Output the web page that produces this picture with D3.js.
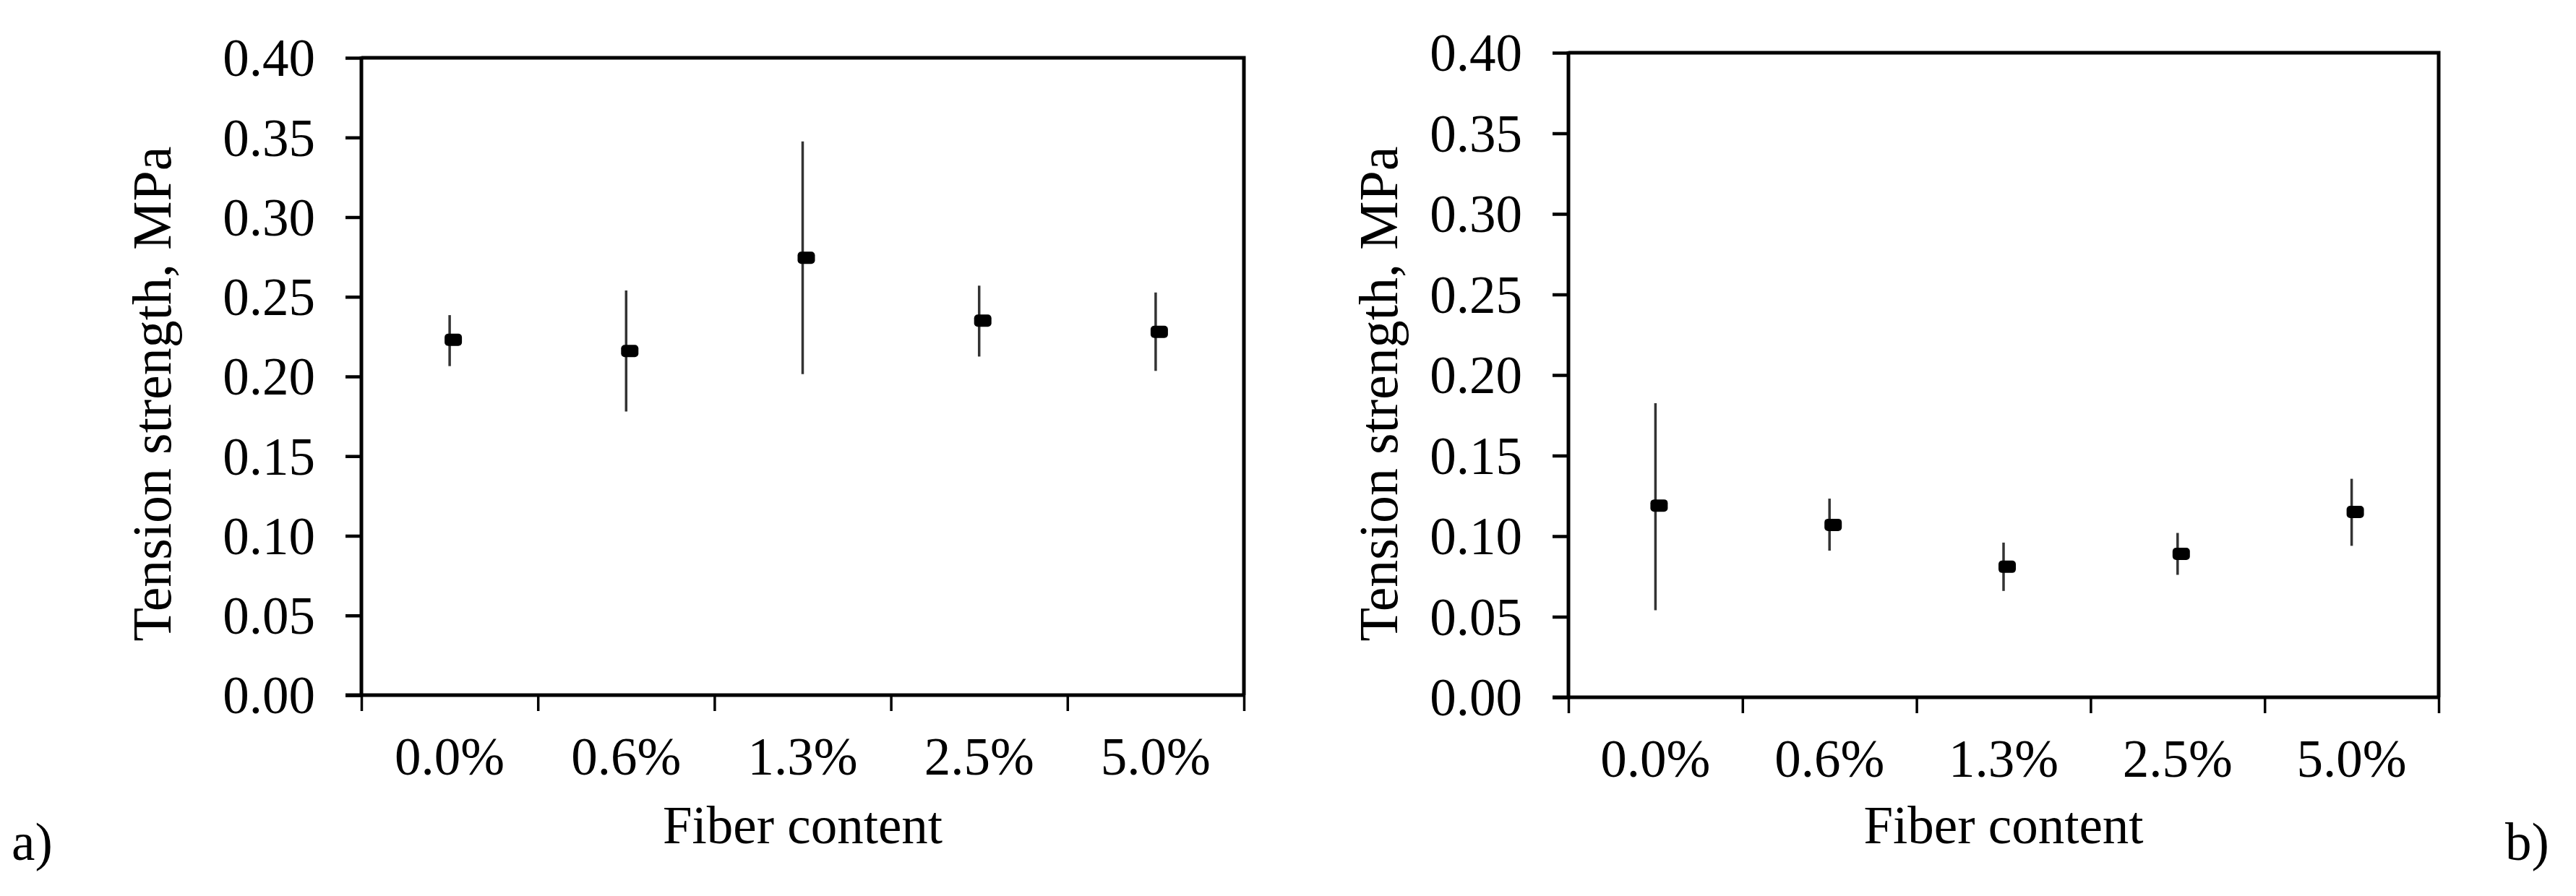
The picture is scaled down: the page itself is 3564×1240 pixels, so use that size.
<!DOCTYPE html>
<html>
<head>
<meta charset="utf-8">
<script src="https://cdn.jsdelivr.net/npm/d3@7"></script>
<style>
  html, body { margin: 0; padding: 0; background: #fff; }
  svg { display: block; }
  text { font-family: "Liberation Serif", "Times New Roman", serif; fill: #000; }
</style>
</head>
<body>
<svg id="chart" width="3564" height="1240"></svg>
<script>
// ---- data ----
const categories = ["0.0%", "0.6%", "1.3%", "2.5%", "5.0%"];
const yTicks = [0, 0.05, 0.10, 0.15, 0.20, 0.25, 0.30, 0.35, 0.40];

// panel a)
const meanA = [0.223, 0.216, 0.2745, 0.235, 0.228];
const lowA  = [0.2065, 0.178, 0.2015, 0.2125, 0.2035];
const highA = [0.2385, 0.254, 0.3475, 0.257, 0.2527];

// panel b)
const meanB = [0.119, 0.107, 0.081, 0.089, 0.115];
const lowB  = [0.054, 0.091, 0.066, 0.076, 0.094];
const highB = [0.1825, 0.1233, 0.096, 0.102, 0.1356];

const yTitle = "Tension strength, MPa";
const xTitle = "Fiber content";

// ---- drawing ----
const svg = d3.select("#chart");
const FONT = 73;

function panel(opt, means, lows, highs, tag) {
  const x = d3.scaleBand().domain(categories).range([opt.x0, opt.x1]).padding(0);
  const xb = d3.scaleLinear().domain([0, categories.length]).range([opt.x0, opt.x1]);
  const y = d3.scaleLinear().domain([0, 0.40]).range([opt.y1, opt.y0]);
  const g = svg.append("g");

  // top & right frame
  g.append("path")
    .attr("d", `M${opt.x0},${opt.y0}H${opt.x1}V${opt.y1}`)
    .attr("fill", "none").attr("stroke", "#000").attr("stroke-width", 5);

  // y axis
  const ya = g.append("g").attr("transform", `translate(${opt.x0},0)`)
    .call(d3.axisLeft(y).tickValues(yTicks).tickFormat(d3.format(".2f")).tickSize(22).tickPadding(42));
  ya.select(".domain").attr("stroke", "#000").attr("stroke-width", 5).attr("d", `M0,${opt.y0 - 2}V${opt.y1 + 2}`);
  ya.selectAll(".tick line").attr("stroke", "#000").attr("stroke-width", 4.5);
  ya.selectAll(".tick text").style("font-family", '"Liberation Serif", serif')
    .style("font-size", FONT + "px").attr("dy", "0.34em").attr("fill", "#000");

  // x axis boundary ticks
  const xa = g.append("g").attr("transform", `translate(0,${opt.y1})`)
    .call(d3.axisBottom(xb).tickValues(d3.range(categories.length + 1)).tickFormat("").tickSize(22));
  xa.select(".domain").attr("stroke", "#000").attr("stroke-width", 5).attr("d", `M${opt.x0 - 22},0H${opt.x1}`);
  xa.selectAll(".tick line").attr("stroke", "#000").attr("stroke-width", 3.5);

  // x category labels
  const xl = g.append("g").attr("transform", `translate(0,${opt.y1})`)
    .call(d3.axisBottom(x).tickSize(0).tickPadding(58));
  xl.select(".domain").remove();
  xl.selectAll(".tick text").style("font-family", '"Liberation Serif", serif')
    .style("font-size", FONT + "px").attr("fill", "#000");

  // error bars
  g.append("g").selectAll("line").data(categories).join("line")
    .attr("x1", d => x(d) + x.bandwidth() / 2).attr("x2", d => x(d) + x.bandwidth() / 2)
    .attr("y1", (d, i) => y(lows[i])).attr("y2", (d, i) => y(highs[i]))
    .attr("stroke", "#333").attr("stroke-width", 3.5);

  // markers (short dash)
  g.append("g").selectAll("rect").data(categories).join("rect")
    .attr("x", d => x(d) + x.bandwidth() / 2 + 5 - 12)
    .attr("y", (d, i) => y(means[i]) - 8.5)
    .attr("width", 24).attr("height", 17).attr("rx", 5)
    .attr("fill", "#000");

  // axis titles
  svg.append("text")
    .attr("transform", `translate(${opt.yTitleX},${opt.yTitleY}) rotate(-90)`)
    .attr("text-anchor", "middle").style("font-size", "76px").text(yTitle);
  svg.append("text")
    .attr("x", (opt.x0 + opt.x1) / 2).attr("y", 1167)
    .attr("text-anchor", "middle").style("font-size", FONT + "px").text(xTitle);
  svg.append("text")
    .attr("x", opt.tagX).attr("y", 1190)
    .style("font-size", FONT + "px").text(tag);
}

panel({ x0: 500, x1: 1721, y0: 80, y1: 962, yTitleX: 236, yTitleY: 545, tagX: 16 }, meanA, lowA, highA, "a)");
panel({ x0: 2170, x1: 3374, y0: 73, y1: 965, yTitleX: 1933, yTitleY: 545, tagX: 3466 }, meanB, lowB, highB, "b)");
</script>
</body>
</html>
